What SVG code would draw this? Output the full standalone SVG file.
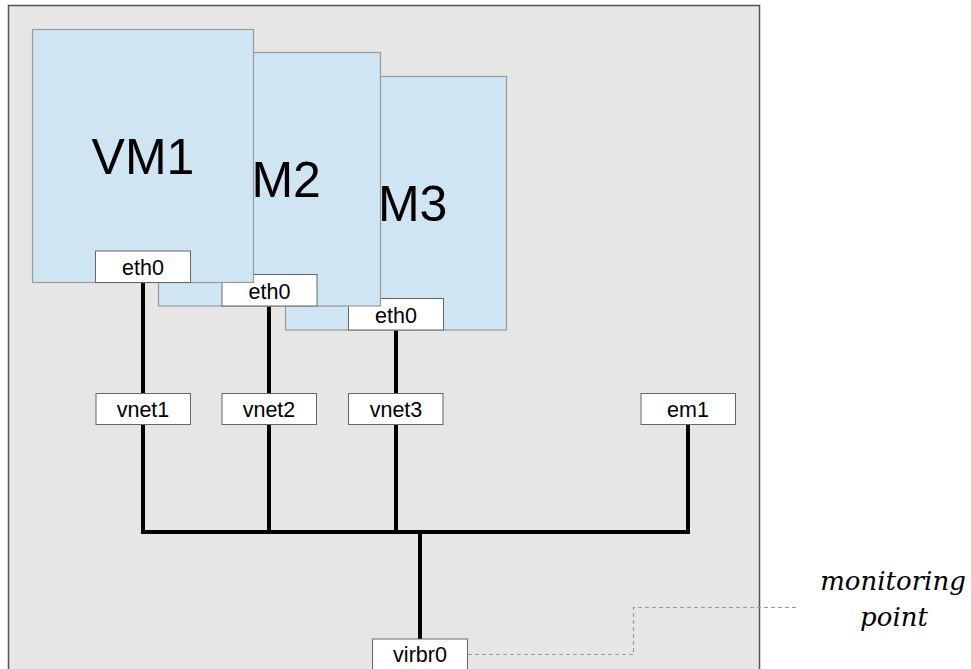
<svg xmlns="http://www.w3.org/2000/svg" width="971" height="669" viewBox="0 0 971 669">
<style>
.host{fill:#e6e6e6;stroke:#555;stroke-width:1.5}
.vm{fill:#cfe5f3;stroke:#999;stroke-width:1.2}
.port{fill:#fff;stroke:#666;stroke-width:1}
.vmt{font-family:"Liberation Sans",Arial,sans-serif;font-size:50px;fill:#000;text-anchor:middle}
.pt{font-family:"Liberation Sans",Arial,sans-serif;font-size:21.5px;fill:#000;text-anchor:middle}
.wire{fill:none;stroke:#000;stroke-width:4;stroke-linecap:square;stroke-linejoin:miter}
.mon{fill:none;stroke:#999;stroke-width:1.2;stroke-dasharray:4 3}
.note{font-family:"DejaVu Serif",serif;font-style:italic;font-size:26px;fill:#000;text-anchor:middle}
</style>
<rect id="host" class="host" x="8.5" y="5.5" width="751" height="700"/>
<g id="connectors">
<path class="wire" d="M143 283V394M269 307V394M396 331V394"/>
<path class="wire" d="M143 425V532H688V425M269 425V532M396 425V532M420 532V639"/>
<path class="mon" d="M468 654.5H633.5V607.5H799"/>
</g>
<g id="vm3">
<rect class="vm" x="285.5" y="76.5" width="221" height="253.5"/>
<text class="vmt" x="396" y="221">VM3</text>
<g id="vm3-eth0"><rect class="port" x="348.5" y="298.5" width="95" height="31.5"/><text class="pt" x="396" y="323">eth0</text></g>
</g>
<g id="vm2">
<rect class="vm" x="158.5" y="52.5" width="222" height="253.5"/>
<text class="vmt" x="269.5" y="197">VM2</text>
<g id="vm2-eth0"><rect class="port" x="222" y="274.5" width="95" height="31.5"/><text class="pt" x="269.5" y="299">eth0</text></g>
</g>
<g id="vm1">
<rect class="vm" x="32.5" y="29.5" width="221" height="253"/>
<text class="vmt" x="143" y="174">VM1</text>
<g id="vm1-eth0"><rect class="port" x="95.5" y="251" width="95" height="31.5"/><text class="pt" x="143" y="275">eth0</text></g>
</g>
<g id="vnet1"><rect class="port" x="96" y="393.5" width="94.5" height="31"/><text class="pt" x="143" y="417">vnet1</text></g>
<g id="vnet2"><rect class="port" x="222" y="393.5" width="94.5" height="31"/><text class="pt" x="269" y="417">vnet2</text></g>
<g id="vnet3"><rect class="port" x="348.5" y="393.5" width="94.5" height="31"/><text class="pt" x="396" y="417">vnet3</text></g>
<g id="em1"><rect class="port" x="641" y="393.5" width="94.5" height="31"/><text class="pt" x="688" y="417">em1</text></g>
<g id="virbr0"><rect class="port" x="372.5" y="639" width="95" height="40"/><text class="pt" x="420" y="662">virbr0</text></g>
<g id="monitoring-point">
<text class="note" x="893" y="590">monitoring</text>
<text class="note" x="894" y="626">point</text>
</g>
</svg>
